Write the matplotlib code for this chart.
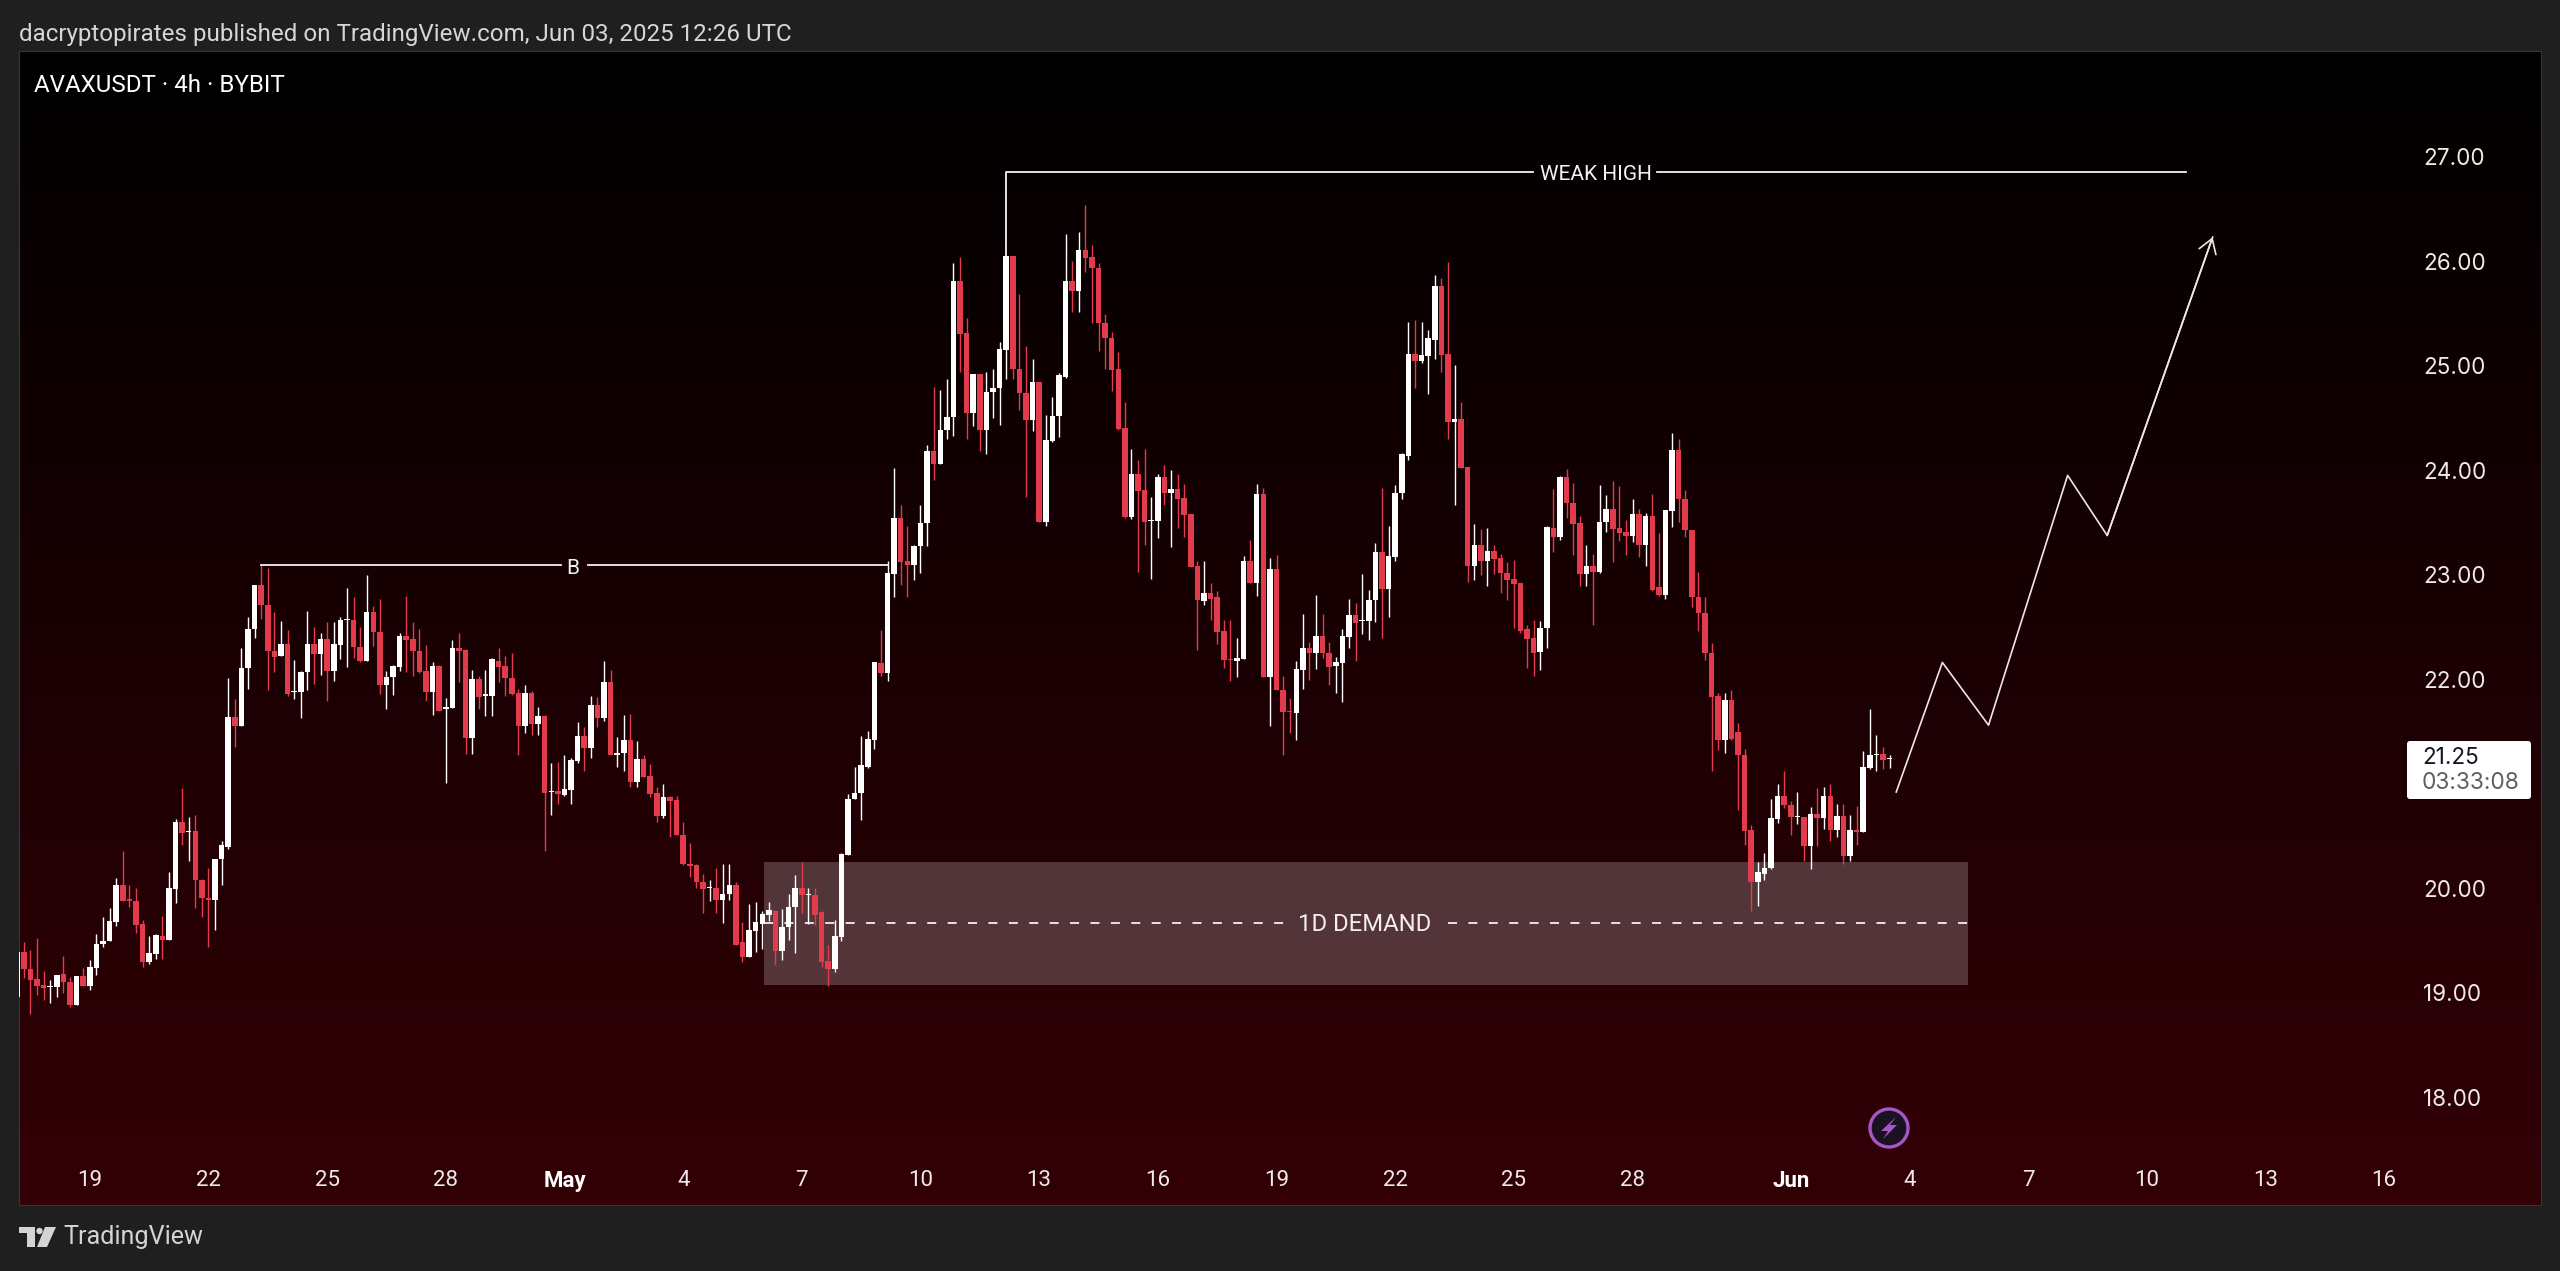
import numpy as np
import matplotlib
matplotlib.use("Agg")
import matplotlib.pyplot as plt
from matplotlib.patches import Circle, FancyBboxPatch, Polygon, Rectangle

plt.rcParams["font.family"] = ["Roboto", "DejaVu Sans"]

W, H = 2560, 1271
FRAME = "#1f1f1f"
RED = "#e23b4b"
WHITE = "#ffffff"
TEXT = "#efe9e9"

# one letter per 4h candle: w = up, r = down
candle_colors = (
    "wrrrrwwrrw" "rwwwwwrrrr" "wwrwwrwrrr" "wwwrwwwrrr" "wrwwwrwrww"
    "wrrwrrwwwr" "rrrwrwwrrw" "rwwrrrrwrw" "rwrwwwrwrw" "rwwrwrrrwr"
    "rrrrrwrwwr" "rwwwwrwwwr" "wrrrwwwwww" "wrwwrrwwwr" "wwwrrwrwww"
    "wrrrwrwwww" "rwrrrrrrrw" "rrwwrwrrrr" "wrrrrwwrwr" "wrrrwwrwrr"
    "wwwrwwwrww" "wwrwwwrrwr" "rwrwrrrrrr" "rwwrwrrrwr" "wwrrrwrwrr"
    "wwrrrrrrrw" "rrrrwwwwrr" "wrwrwrwrwr" "wwwrw"
)

highs = [
    19.39,19.48,19.41,19.52,19.21,19.12,19.17,19.35,19.15,19.16,
    19.24,19.31,19.56,19.72,19.81,20.10,20.36,20.03,20.00,19.70,
    19.54,19.56,19.73,20.15,20.66,20.96,20.68,20.70,20.09,20.19,
    20.28,20.45,22.01,21.81,22.30,22.59,22.90,23.10,23.06,22.64,
    22.56,22.47,22.18,22.08,22.65,22.50,22.44,22.55,22.55,22.59,
    22.87,22.79,22.50,23.00,22.70,22.77,22.08,22.14,22.44,22.80,
    22.55,22.48,22.33,22.16,22.14,21.82,22.37,22.44,22.29,22.09,
    22.03,22.09,22.20,22.30,22.22,22.25,21.91,21.94,21.89,21.73,
    21.66,21.20,21.21,21.27,21.25,21.59,21.54,21.84,21.83,22.17,
    22.09,21.45,21.66,21.67,21.41,21.27,21.19,20.97,21.00,20.88,
    20.88,20.63,20.43,20.23,20.14,20.08,20.19,20.23,20.23,20.06,
    19.68,19.85,19.87,19.78,19.87,19.79,19.80,19.94,20.13,20.25,
    20.00,20.00,19.78,19.46,19.70,20.34,20.90,21.16,21.46,21.50,
    22.16,22.47,23.13,24.02,23.67,23.47,23.28,23.67,24.24,24.80,
    24.77,24.87,25.98,26.04,25.46,24.92,24.92,24.94,24.97,25.23,
    26.05,26.05,25.69,25.19,25.06,24.84,24.53,24.70,24.93,26.26,
    26.00,26.28,26.54,26.15,25.98,25.49,25.32,25.13,24.65,24.20,
    24.10,24.20,23.74,23.96,24.05,24.00,23.96,23.87,23.58,23.13,
    23.13,22.92,22.84,22.57,22.57,22.39,23.18,23.33,23.87,23.83,
    23.16,23.19,22.03,21.82,22.17,22.62,22.36,22.81,22.62,22.36,
    22.21,22.48,22.77,22.73,23.01,22.85,23.30,23.83,23.47,23.86,
    24.16,25.42,25.44,25.42,25.34,25.87,25.84,25.99,25.01,24.65,
    24.03,23.48,23.44,23.45,23.28,23.20,23.12,23.14,22.92,22.52,
    22.57,22.56,23.47,23.82,23.94,24.01,23.88,23.56,23.28,23.20,
    23.86,23.76,23.90,23.85,23.52,23.72,23.63,23.59,23.77,23.40,
    23.62,24.36,24.30,23.81,23.43,23.03,22.79,22.35,21.87,21.87,
    21.90,21.58,21.33,20.60,20.25,20.34,20.85,21.00,21.12,20.83,
    20.92,20.68,20.78,20.96,20.97,21.00,20.81,20.81,20.70,20.79,
    21.31,21.71,21.47,21.35,21.27,
]

body_tops = [
    19.39,19.39,19.23,19.13,19.07,19.06,19.17,19.18,19.10,19.16,
    19.16,19.25,19.47,19.49,19.69,20.03,20.03,19.90,19.88,19.66,
    19.38,19.55,19.54,20.00,20.63,20.63,20.55,20.55,20.08,19.91,
    20.28,20.41,21.64,21.64,22.11,22.48,22.90,22.90,22.71,22.27,
    22.34,22.34,21.89,22.07,22.34,22.34,22.38,22.38,22.34,22.57,
    22.58,22.57,22.31,22.64,22.64,22.45,22.02,22.13,22.41,22.41,
    22.38,22.27,22.08,22.13,22.13,21.73,22.30,22.30,22.28,22.00,
    22.00,21.86,22.19,22.17,22.13,22.01,21.87,21.87,21.87,21.65,
    21.65,20.93,20.93,20.95,21.23,21.46,21.46,21.75,21.75,21.97,
    21.97,21.29,21.42,21.42,21.24,21.24,21.07,20.91,20.87,20.87,
    20.84,20.51,20.23,20.22,20.06,20.01,20.00,19.94,20.03,20.03,
    19.48,19.60,19.68,19.75,19.79,19.78,19.63,19.82,20.00,20.00,
    19.94,19.93,19.77,19.30,19.54,20.33,20.85,20.91,21.18,21.43,
    22.16,22.15,23.02,23.54,23.54,23.13,23.27,23.49,24.18,24.18,
    24.38,24.51,25.81,25.81,25.31,24.92,24.92,24.75,24.79,25.16,
    26.05,26.05,24.97,24.74,24.84,24.84,24.29,24.52,24.91,25.81,
    25.81,26.11,26.11,26.04,25.93,25.41,25.26,24.97,24.40,23.96,
    23.96,23.81,23.52,23.93,23.93,23.82,23.82,23.73,23.58,23.08,
    22.82,22.82,22.79,22.46,22.19,22.20,23.13,23.13,23.77,23.77,
    23.05,23.05,21.90,21.70,22.10,22.30,22.30,22.41,22.41,22.25,
    22.16,22.41,22.61,22.61,22.57,22.76,23.22,23.22,23.18,23.78,
    24.15,25.11,25.11,25.10,25.26,25.76,25.76,25.11,24.49,24.49,
    24.03,23.28,23.28,23.23,23.23,23.16,23.02,22.96,22.92,22.48,
    22.39,22.49,23.46,23.45,23.93,23.93,23.69,23.49,23.08,23.08,
    23.50,23.63,23.63,23.45,23.41,23.58,23.58,23.56,23.56,22.88,
    23.62,24.19,24.19,23.72,23.43,22.79,22.63,22.25,21.84,21.80,
    21.80,21.49,21.27,20.56,20.15,20.19,20.67,20.88,20.88,20.80,
    20.69,20.68,20.71,20.71,20.88,20.88,20.69,20.69,20.56,20.56,
    21.16,21.27,21.28,21.28,21.25,
]

body_bottoms = [
    18.96,19.23,19.12,19.06,19.04,19.05,19.05,19.10,18.88,18.88,
    19.06,19.06,19.24,19.47,19.49,19.68,19.88,19.88,19.65,19.29,
    19.29,19.37,19.50,19.50,19.99,20.53,20.54,20.08,19.91,19.89,
    19.89,20.28,20.39,21.55,21.55,22.11,22.48,22.71,22.27,22.21,
    22.22,21.86,21.88,21.88,22.07,22.24,22.24,22.08,22.08,22.33,
    22.57,22.31,22.17,22.17,22.45,21.94,21.94,22.02,22.12,22.37,
    22.27,22.07,21.88,21.88,21.70,21.71,21.72,22.27,21.44,21.44,
    21.83,21.84,21.84,22.12,22.01,21.86,21.55,21.55,21.57,21.57,
    20.91,20.92,20.90,20.89,20.94,21.22,21.34,21.34,21.63,21.63,
    21.27,21.27,21.29,21.02,21.02,21.06,20.90,20.69,20.69,20.83,
    20.51,20.23,20.21,20.06,19.99,20.00,19.89,19.89,19.94,19.46,
    19.34,19.34,19.59,19.66,19.74,19.40,19.40,19.63,19.82,19.93,
    19.93,19.74,19.29,19.23,19.23,19.53,20.32,20.85,20.91,21.16,
    21.42,22.06,22.06,23.01,23.12,23.09,23.09,23.27,23.49,24.06,
    24.06,24.38,24.51,25.30,24.55,24.55,24.38,24.38,24.75,24.79,
    25.15,24.97,24.74,24.48,24.48,23.50,23.50,24.28,24.52,24.89,
    25.71,25.71,26.03,25.93,25.41,25.26,24.96,24.39,23.55,23.55,
    23.80,23.50,23.51,23.51,23.78,23.78,23.72,23.57,23.07,22.76,
    22.75,22.77,22.45,22.18,22.18,22.17,22.19,22.92,22.92,22.02,
    22.02,21.90,21.69,21.69,21.68,22.09,22.25,22.25,22.25,22.12,
    22.13,22.15,22.40,22.54,22.56,22.56,22.76,22.86,22.86,23.17,
    23.78,24.14,25.04,25.04,25.09,25.25,25.10,24.46,24.46,24.02,
    23.08,23.08,23.13,23.13,23.15,23.02,22.95,22.91,22.46,22.38,
    22.25,22.26,22.49,23.36,23.36,23.69,23.48,23.01,23.01,23.03,
    23.03,23.50,23.44,23.40,23.37,23.37,23.28,23.28,22.85,22.81,
    22.81,23.61,23.72,23.43,22.79,22.63,22.25,21.83,21.42,21.42,
    21.43,21.27,20.55,20.06,20.06,20.14,20.19,20.66,20.80,20.68,
    20.68,20.40,20.40,20.67,20.67,20.56,20.56,20.31,20.31,20.54,
    20.54,21.15,21.27,21.23,21.24,
]

lows = [
    18.96,19.14,18.80,18.98,18.93,18.90,18.96,19.00,18.86,18.88,
    19.06,19.03,19.17,19.44,19.49,19.64,19.88,19.82,19.57,19.25,
    19.27,19.32,19.32,19.50,19.86,20.41,20.26,19.81,19.72,19.44,
    19.60,20.03,20.37,21.35,21.55,21.91,22.39,22.58,21.90,22.07,
    22.22,21.84,21.81,21.63,21.90,21.95,22.04,21.79,21.98,22.19,
    22.12,22.20,22.16,22.17,22.32,21.86,21.71,21.85,22.08,22.07,
    22.03,22.06,21.79,21.66,21.70,21.01,21.72,21.97,21.28,21.28,
    21.71,21.65,21.65,21.97,21.84,21.85,21.27,21.48,21.47,21.47,
    20.36,20.70,20.81,20.88,20.81,21.20,21.12,21.25,21.54,21.60,
    21.27,21.16,21.12,20.97,20.97,21.06,20.87,20.63,20.67,20.49,
    20.51,20.22,20.11,20.00,19.76,19.88,19.76,19.67,19.89,19.46,
    19.29,19.34,19.39,19.42,19.69,19.26,19.31,19.50,19.38,19.76,
    19.66,19.65,19.25,19.06,19.20,19.49,20.32,20.85,20.65,21.15,
    21.33,22.03,21.98,22.79,22.90,22.79,22.95,23.02,23.27,23.91,
    24.06,24.30,24.33,24.94,24.30,24.42,24.18,24.15,24.50,24.43,
    24.87,24.87,24.58,23.74,24.37,23.50,23.47,24.27,24.32,24.88,
    25.51,25.51,25.90,25.41,25.14,24.97,24.76,24.38,23.54,23.53,
    23.03,23.28,22.96,23.35,23.67,23.26,23.45,23.36,23.07,22.28,
    22.71,22.57,22.34,22.11,21.98,22.02,22.19,22.92,22.80,22.02,
    21.55,21.90,21.27,21.48,21.42,21.91,21.99,22.10,22.20,21.94,
    21.87,21.78,22.30,22.17,22.43,22.37,22.55,22.39,22.59,23.13,
    23.72,24.10,24.79,25.03,24.73,25.06,24.94,24.30,23.67,24.02,
    22.93,22.95,23.00,22.89,23.01,22.82,22.76,22.49,22.44,22.11,
    22.03,22.09,22.30,23.22,23.33,23.54,23.19,22.89,22.89,22.52,
    23.02,23.41,23.12,23.32,23.19,23.31,23.17,23.08,22.84,22.80,
    22.77,23.46,23.50,23.36,22.69,22.46,22.18,21.12,21.32,21.29,
    21.42,20.75,20.41,19.78,19.83,20.08,20.18,20.62,20.77,20.51,
    20.61,20.26,20.18,20.40,20.57,20.45,20.49,20.23,20.26,20.41,
    20.54,21.14,21.12,21.14,21.15,
]

# 21.00 is hidden behind the last price label
price_ticks = [18, 19, 20, 22, 23, 24, 25, 26, 27]
# bar index of each date label (6 bars a day)
date_ticks = [11, 29, 47, 65, 83, 101, 119, 137, 155, 173, 191, 209, 227, 245,
              269, 287, 305, 323, 341, 359]
date_labels = ["19", "22", "25", "28", "May", "4", "7", "10", "13", "16", "19",
               "22", "25", "28", "Jun", "4", "7", "10", "13", "16"]

forecast_x = [285, 292, 299, 311, 317, 333]
forecast_y = [20.92, 22.16, 21.56, 23.95, 23.375, 26.23]

weak_high = 26.857
bos_level = 23.09
demand_top = 20.25
demand_bottom = 19.07
demand_mid = 19.67


def draw_candles(ax):
    x = np.arange(len(highs))
    colors = [WHITE if c == "w" else RED for c in candle_colors]
    ax.vlines(x, lows, highs, colors=colors, linewidth=1.0, zorder=4)
    tops = np.array(body_tops)
    bottoms = np.array(body_bottoms)
    ax.bar(x, tops - bottoms, bottom=bottoms, width=0.84, color=colors,
           linewidth=0, zorder=5)


fig = plt.figure(figsize=(W / 100, H / 100), dpi=100, facecolor=FRAME)
ax = fig.add_axes([19 / W, (H - 1205) / H, 2522 / W, 1154 / H])

# background fade, black at the top to dark red at the bottom
fade = np.linspace(0, 1, 256).reshape(-1, 1, 1) * np.array([50, 0, 6]) / 255
x_range = (0.26, 382.8)
y_range = (16.968, 28.011)
ax.imshow(fade, extent=(*x_range, *y_range), origin="upper", aspect="auto",
          zorder=0)
ax.set_xlim(x_range)
ax.set_ylim(y_range)

# demand zone
ax.add_patch(Rectangle((113.2, demand_bottom), 182.7, demand_top - demand_bottom,
                       facecolor="#ffffff", alpha=0.21, linewidth=0, zorder=2))
for seg in ([113.2, 192.5], [217, 295.9]):
    ax.plot(seg, [demand_mid, demand_mid], color="#f4eeee", linewidth=1.3,
            linestyle=(0, (5, 6.3)), zorder=3)
ax.text(204.4, demand_mid - 0.02, "1D DEMAND", color="#f4eeee", fontsize=17.2,
        ha="center", va="center", zorder=6)

# B level
for seg in ([37, 82.5], [86.5, 132.1]):
    ax.plot(seg, [bos_level, bos_level], color="#f2f2f2", linewidth=1.3, zorder=6)
ax.text(84.3, bos_level - 0.03, "B", color="#f2f2f2", fontsize=15, ha="center",
        va="center", zorder=6)

# weak high
ax.plot([150, 150, 229.9], [highs[150], weak_high, weak_high], color="#f2f2f2",
        linewidth=1.3, zorder=6)
ax.plot([248.7, 329], [weak_high, weak_high], color="#f2f2f2", linewidth=1.3,
        zorder=6)
ax.text(239.5, weak_high - 0.03, "WEAK HIGH", color="#f2f2f2", fontsize=15,
        ha="center", va="center", zorder=6)

draw_candles(ax)

# projected path
ax.plot(forecast_x, forecast_y, color="#efe6e6", linewidth=1.2, zorder=6)
ax.annotate("", xy=(forecast_x[-1], forecast_y[-1]),
            xytext=(forecast_x[-2], forecast_y[-2]),
            arrowprops=dict(arrowstyle="->,head_length=0.5,head_width=0.32",
                            color="#efe6e6", linewidth=1.2, mutation_scale=20,
                            shrinkA=0, shrinkB=0), zorder=6)

ax.yaxis.tick_right()
ax.set_yticks(price_ticks, [f"{p:.2f}" for p in price_ticks])
ax.set_xticks(date_ticks, date_labels)
ax.tick_params(axis="y", length=0, pad=-85, labelsize=16.2, labelcolor=TEXT,
               labelfontfamily="Inter")
ax.tick_params(axis="x", length=0, pad=-25.5, labelsize=16, labelcolor=TEXT)
for label in ax.get_xticklabels():
    if label.get_text() in ("May", "Jun"):
        label.set_fontweight("bold")
        label.set_color("#ffffff")
for spine in ax.spines.values():
    spine.set_color("#3a3434")
    spine.set_linewidth(0.8)

# screen furniture, in pixel coordinates
top = fig.add_axes([0, 0, 1, 1], facecolor="none")
top.set_xlim(0, W)
top.set_ylim(H, 0)
top.axis("off")

top.text(19, 34, "dacryptopirates published on TradingView.com, Jun 03, 2025 12:26 UTC",
         color="#d6d6d6", fontsize=17.37, va="center")
top.text(34, 85.5, "AVAXUSDT · 4h · BYBIT", color="#ffffff", fontsize=17.35, va="center")

top.add_patch(FancyBboxPatch((2409, 743), 120, 54, boxstyle="round,pad=2,rounding_size=3",
                             facecolor="#ffffff", edgecolor="none"))
top.text(2422, 758, "21.25", color="#131722", fontsize=16.2, family="Inter", va="center")
top.text(2422, 783, "03:33:08", color="#606060", fontsize=16.4, family="Inter", va="center")

top.add_patch(Circle((1889, 1128), 19, facecolor="#1a1220", edgecolor="#a855c8",
                     linewidth=2.4))
bolt = np.array([(7, -11), (-8, 3), (-1, 3), (-6, 11), (8, -3), (1, -3)]) + (1889, 1128)
top.add_patch(Polygon(bolt, facecolor="#a855c8", edgecolor="none"))

# TradingView mark
logo = "#d4d4d4"
top.add_patch(Polygon([(19, 1227), (35, 1227), (35, 1247), (27, 1247), (27, 1233),
                       (19, 1233)], facecolor=logo, edgecolor="none"))
top.add_patch(Circle((39.5, 1231), 3.2, facecolor=logo, edgecolor="none"))
top.add_patch(Polygon([(45, 1227), (56, 1227), (47, 1247), (37, 1247)],
                      facecolor=logo, edgecolor="none"))
top.text(63, 1237, "TradingView", color=logo, fontsize=18.1, va="center")

fig.savefig("out.png", dpi=100, facecolor=FRAME)
